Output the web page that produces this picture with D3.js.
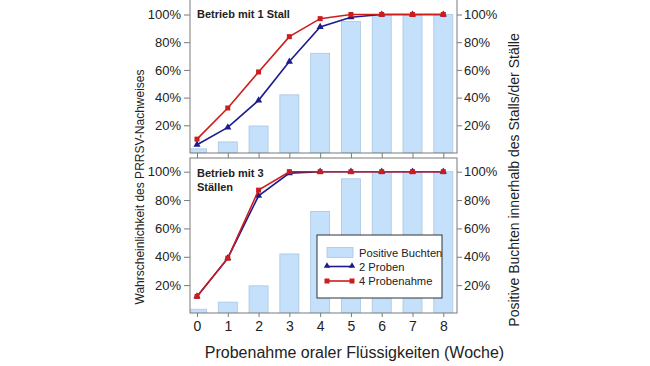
<!DOCTYPE html>
<html><head><meta charset="utf-8">
<script src="https://cdn.jsdelivr.net/npm/d3@7"></script>
<style>body{margin:0;background:#fff}svg{display:block}text{font-family:"Liberation Sans",Arial,sans-serif;fill:#222}</style>
</head><body><svg id="c" width="650" height="366"></svg>
<script>
const weeks = [0,1,2,3,4,5,6,7,8];
const positiveBuchten = [3,8,19.5,42,72,95,100,100,100];
const stall1_2Proben = [6,18.5,38,66,91,98,100,100,100];
const stall1_4Probenahme = [10,32.5,58.5,84,97,100,100,100,100];
const stall3_2Proben = [12,39,83,99,100,100,100,100,100];
const stall3_4Probenahme = [12,39,87,100,100,100,100,100,100];
const yTicks = [20,40,60,80,100];
const panelTitles = [["Betrieb mit 1 Stall"],["Betrieb mit 3","Ställen"]];
const legendLabels = ["Positive Buchten","2 Proben","4 Probenahme"];
const xTitle = "Probenahme oraler Flüssigkeiten (Woche)";
const yLeftTitle = "Wahrscheinlichkeit des PRRSV-Nachweises";
const yRightTitle = "Positive Buchten innerhalb des Stalls/der Ställe";

const svg = d3.select("#c");
const RED = "#cc1c1c", BLUE = "#1c1c8e", BARF = "#c4e0fa", BARS = "#a9c6e0", AX = "#7a7a7a";
const L = 190, R = 457;
const x = d3.scaleLinear().domain([0,8]).range([197,443.3]);
const panels = [
  {top:-2, bottom:153, y: d3.scaleLinear().domain([0,100]).range([153,14.5]), s2: stall1_2Proben, s4: stall1_4Probenahme, title: panelTitles[0]},
  {top:158, bottom:313, y: d3.scaleLinear().domain([0,100]).range([313.5,171.7]), s2: stall3_2Proben, s4: stall3_4Probenahme, title: panelTitles[1]}
];
const bw = 19;
panels.forEach((p,i)=>{
  const g = svg.append("g");
  const cid = "clip"+i;
  svg.append("clipPath").attr("id",cid).append("rect").attr("x",L).attr("y",p.top).attr("width",R-L).attr("height",p.bottom-p.top);
  const pg = g.append("g").attr("clip-path",`url(#${cid})`);
  pg.selectAll("rect.bar").data(weeks).join("rect").attr("class","bar")
    .attr("x",d=>x(d)-bw/2).attr("width",bw)
    .attr("y",(d,j)=>p.y(positiveBuchten[j])).attr("height",(d,j)=>p.y(0)-p.y(positiveBuchten[j]))
    .attr("fill",BARF).attr("stroke",BARS).attr("stroke-width",0.8);
  const line = d3.line().x((d,j)=>x(weeks[j])).y(d=>p.y(d));
  pg.append("path").datum(p.s2).attr("d",line).attr("fill","none").attr("stroke",BLUE).attr("stroke-width",1.6);
  pg.selectAll("path.tri").data(p.s2).join("path").attr("class","tri")
    .attr("d",d3.symbol(d3.symbolTriangle,22)).attr("transform",(d,j)=>`translate(${x(weeks[j])},${p.y(d)})`).attr("fill",BLUE);
  pg.append("path").datum(p.s4).attr("d",line).attr("fill","none").attr("stroke",RED).attr("stroke-width",1.6);
  pg.selectAll("rect.sq").data(p.s4).join("rect").attr("class","sq")
    .attr("x",(d,j)=>x(weeks[j])-2.5).attr("y",d=>p.y(d)-2.5).attr("width",5).attr("height",5).attr("fill",RED);
  g.append("rect").attr("x",L).attr("y",p.top).attr("width",R-L).attr("height",p.bottom-p.top)
    .attr("fill","none").attr("stroke",AX).attr("stroke-width",1);
  const la = g.append("g").attr("transform",`translate(${L},0)`)
    .call(d3.axisLeft(p.y).tickValues(yTicks).tickFormat(d=>d+"%").tickSize(6).tickPadding(3));
  const ra = g.append("g").attr("transform",`translate(${R},0)`)
    .call(d3.axisRight(p.y).tickValues(yTicks).tickFormat(d=>d+"%").tickSize(5).tickPadding(2));
  const ba = g.append("g").attr("transform",`translate(0,${p.bottom})`)
    .call(d3.axisBottom(x).tickValues(weeks).tickSize(i===0?5:4).tickPadding(4).tickFormat(i===1?d3.format("d"):()=>""));
  [la,ra,ba].forEach(a=>{a.select(".domain").remove();a.selectAll("line").attr("stroke",AX);a.selectAll("text").attr("font-family","Liberation Sans, Arial, sans-serif").attr("fill","#2a2a2a");});
  la.selectAll("text").attr("font-size",13);
  ra.selectAll("text").attr("font-size",13);
  ba.selectAll("text").attr("font-size",14);
  const t = g.append("text").attr("x",197).attr("font-size",11).attr("font-weight","bold");
  p.title.forEach((s,k)=>t.append("tspan").attr("x",197).attr("y",p.top+(i===0?20:19)+k*14).text(s));
});
const lg = svg.append("g");
lg.append("rect").attr("x",317).attr("y",235).attr("width",125).attr("height",63).attr("fill","#fff").attr("stroke","#333").attr("stroke-width",1);
lg.append("rect").attr("x",327).attr("y",247.5).attr("width",26).attr("height",10).attr("fill",BARF).attr("stroke",BARS).attr("stroke-width",0.8);
lg.append("line").attr("x1",327).attr("x2",352).attr("y1",266.5).attr("y2",266.5).attr("stroke",BLUE).attr("stroke-width",1.6);
[327,352].forEach(v=>lg.append("path").attr("d",d3.symbol(d3.symbolTriangle,18)).attr("transform",`translate(${v},266)`).attr("fill",BLUE));
lg.append("line").attr("x1",327).attr("x2",352).attr("y1",281).attr("y2",281).attr("stroke",RED).attr("stroke-width",1.6);
[327,352].forEach(v=>lg.append("rect").attr("x",v-2.5).attr("y",278.5).attr("width",5).attr("height",5).attr("fill",RED));
legendLabels.forEach((s,k)=>lg.append("text").attr("x",359).attr("y",256.5+k*14.2).attr("font-size",11.2).text(s));
svg.append("text").attr("x",354.5).attr("y",358).attr("text-anchor","middle").attr("font-size",16).text(xTitle);
svg.append("text").attr("transform","translate(144,187) rotate(-90)").attr("text-anchor","middle").attr("font-size",12).text(yLeftTitle);
svg.append("text").attr("transform","translate(519,180) rotate(-90)").attr("text-anchor","middle").attr("font-size",14).text(yRightTitle);
</script></body></html>
